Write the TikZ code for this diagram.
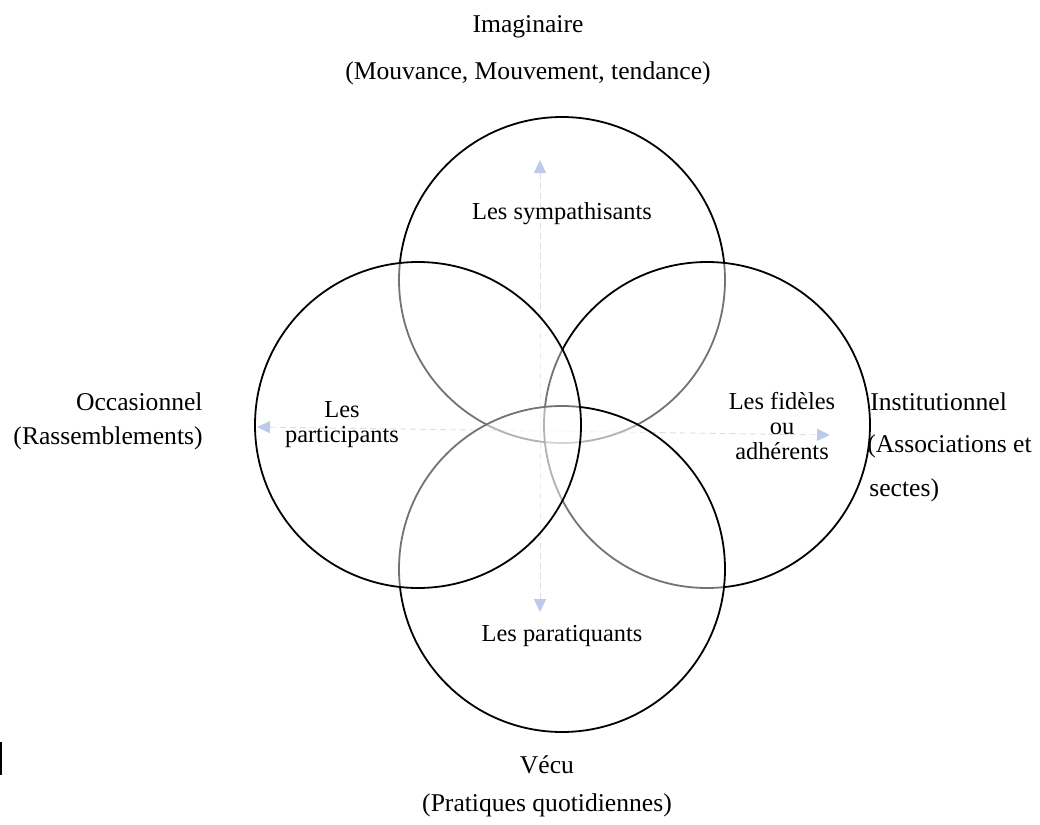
\documentclass[tikz,border=0pt]{standalone}
\usepackage{fontspec}
\setmainfont{Liberation Serif}
\usetikzlibrary{positioning}
\usetikzlibrary{arrows.meta}

\definecolor{axisLine}{RGB}{190,196,218}
\definecolor{axisTip}{RGB}{135,160,220}

\begin{document}
\begin{tikzpicture}[x=0.5pt, y=-0.5pt]
    % Styles
    \tikzset{
        sphere/.style={
                circle,
                draw,
                line width=0.9pt,
                fill=white,
                fill opacity=0.45,
                minimum size=163pt,
                inner sep=0pt
            }
    }
    \tikzset{
        outerLabel/.style={
                font=\fontsize{12.8}{15}\selectfont,
                inner sep=0pt
            }
    }
    \tikzset{
        innerLabel/.style={
                font=\fontsize{12.2}{12.4}\selectfont,
                align=center,
                inner sep=0pt
            }
    }
    \tikzset{
        axis/.style={
                draw=axisLine,
                line width=0.45pt,
                dash pattern=on 3pt off 2pt,
                {Triangle[length=6.5pt,width=6pt,color=axisTip]}-{Triangle[length=6.5pt,width=6pt,color=axisTip]}
            }
    }
    \useasboundingbox (0,0) rectangle (1040,825);
    % Axes
    \coordinate (upEnd) at (540,160);
    \coordinate (downEnd) at (540,612);
    \coordinate (leftEnd) at (257,427);
    \coordinate (rightEnd) at (830,435);
    \draw[axis] (upEnd) -- (downEnd);
    \draw[axis] (leftEnd) -- (rightEnd);
    % Circles
    \node[sphere] (imagCircle) at (562,280) {};
    \node[sphere] (instCircle) at (707,425) {};
    \node[sphere] (vecuCircle) at (562,569) {};
    \node[sphere] (occCircle) at (418,425) {};
    % Texts inside
    \node[innerLabel] (sympathisants) at (562,214) {Les sympathisants};
    \node[innerLabel] (paratiquants) at (562,636) {Les paratiquants};
    \node[innerLabel] (participants) at (342,425) {Les\\participants};
    \node[innerLabel] (fideles) at (782,426) {Les fidèles\\ou\\adhérents};
    % Texts outside
    \node[outerLabel] (imag) at (528,27) {Imaginaire};
    \node[outerLabel] (imagSub) at (528,73) {(Mouvance, Mouvement, tendance)};
    \node[outerLabel] (vecu) at (547,765) {Vécu};
    \node[outerLabel] (vecuSub) at (547,805) {(Pratiques quotidiennes)};
    \node[outerLabel, anchor=east] (occ) at (203,402) {Occasionnel};
    \node[outerLabel, anchor=east] (occSub) at (203,438) {(Rassemblements)};
    \node[outerLabel, anchor=west] (inst) at (870,402) {Institutionnel};
    \node[outerLabel, anchor=west] (instSub) at (867,446) {(Associations et};
    \node[outerLabel, anchor=west] (instSubTwo) at (869,490) {sectes)};
    \fill (0,742) rectangle (2,775);
\end{tikzpicture}
\end{document}
